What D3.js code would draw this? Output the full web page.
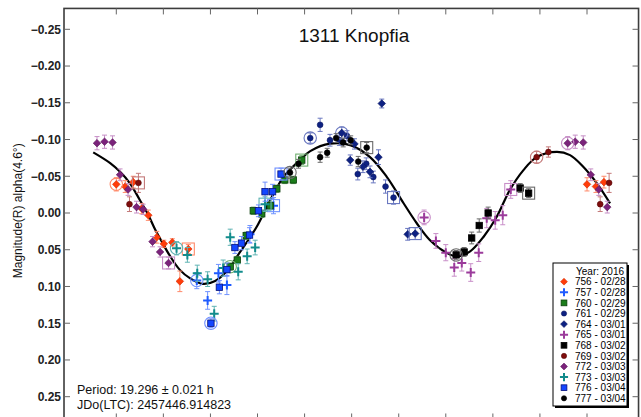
<!DOCTYPE html>
<html>
<head>
<meta charset="utf-8">
<script src="https://cdn.jsdelivr.net/npm/d3@7"></script>
<style>
  html, body { margin: 0; padding: 0; background: #fff; }
  svg { display: block; font-family: "Liberation Sans", Arial, sans-serif; }
</style>
</head>
<body>
<svg id="chart" width="641" height="417"></svg>
<script>
// ---- axis ticks ----
const phaseTicks = [0, 0.1, 0.2, 0.3, 0.4, 0.5, 0.6, 0.7, 0.8, 0.9, 1.0];
const magTicks = [-0.25, -0.20, -0.15, -0.10, -0.05, 0.00, 0.05, 0.10, 0.15, 0.20, 0.25];

// ---- Fourier fit (phase, reduced magnitude) ----
const fitPhase = [-0.049, -0.013, 0.008, 0.029, 0.050, 0.067, 0.082, 0.097, 0.114, 0.135,
  0.157, 0.184, 0.210, 0.235, 0.263, 0.298, 0.327, 0.355, 0.390, 0.412,
  0.454, 0.497, 0.539, 0.575, 0.610, 0.638, 0.666, 0.702, 0.723, 0.751,
  0.780, 0.808, 0.836, 0.865, 0.893, 0.936, 0.964, 0.992, 1.021, 1.049];
const fitMag = [-0.0825, -0.0679, -0.0561, -0.0404, -0.0177, 0.0014, 0.0217, 0.0394, 0.0584, 0.0774,
  0.0890, 0.0965, 0.0924, 0.0788, 0.0530, 0.0190, -0.0177, -0.0489, -0.0720, -0.0842,
  -0.0944, -0.0924, -0.0761, -0.0489, -0.0136, 0.0136, 0.0367, 0.0543, 0.0591, 0.0526,
  0.0326, 0.0054, -0.0313, -0.0584, -0.0761, -0.0833, -0.0788, -0.0629, -0.0404, -0.0132];

// ---- sessions: [phase, magnitude, error], in time order ----
const s756 = [[0.000, -0.039, 0.009], [0.019, -0.036, 0.008], [0.036, -0.042, 0.008], [0.054, -0.006, 0.007],
  [0.068, 0.003, 0.007], [0.086, 0.033, 0.008], [0.101, 0.042, 0.005], [0.119, 0.040, 0.005],
  [0.135, 0.093, 0.014], [0.153, 0.049, 0.006]];
const s757 = [[0.171, 0.092, 0.011], [0.194, 0.119, 0.012], [0.217, 0.082, 0.012], [0.235, 0.098, 0.013],
  [0.284, 0.029, 0.012], [0.334, -0.010, 0.011]];
const s760 = [[0.242, 0.073, 0.005], [0.257, 0.064, 0.005], [0.276, 0.031, 0.005], [0.291, -0.003, 0.005],
  [0.309, 0.001, 0.005], [0.327, -0.010, 0.005], [0.341, -0.033, 0.005], [0.358, -0.045, 0.005],
  [0.376, -0.045, 0.005], [0.394, -0.072, 0.006]];
const s761 = [[0.412, -0.102, 0.007], [0.433, -0.120, 0.009], [0.454, -0.099, 0.008], [0.474, -0.099, 0.007],
  [0.490, -0.105, 0.007], [0.513, -0.053, 0.008], [0.531, -0.067, 0.008], [0.546, -0.049, 0.008],
  [0.572, -0.036, 0.009], [0.589, -0.021, 0.009]];
const s764 = [[0.479, -0.109, 0.008], [0.497, -0.072, 0.007], [0.506, -0.094, 0.007], [0.524, -0.063, 0.008],
  [0.539, -0.056, 0.008], [0.557, -0.076, 0.010], [0.564, -0.149, 0.006], [0.619, 0.029, 0.008],
  [0.635, 0.028, 0.008]];
const s765 = [[0.654, 0.006, 0.010], [0.679, 0.038, 0.010], [0.700, 0.054, 0.011], [0.718, 0.074, 0.012],
  [0.734, 0.068, 0.011], [0.753, 0.081, 0.012], [0.770, 0.054, 0.012], [0.787, 0.007, 0.013],
  [0.805, 0.010, 0.012], [0.821, 0.003, 0.013], [0.838, -0.032, 0.012]];
const s768 = [[0.722, 0.057, 0.006], [0.739, 0.053, 0.006], [0.755, 0.034, 0.008], [0.771, 0.017, 0.009],
  [0.790, 0.000, 0.008], [0.858, -0.034, 0.006], [0.876, -0.027, 0.006]];
const s769 = [[0.893, -0.076, 0.008], [0.918, -0.083, 0.007], [0.028, -0.012, 0.010], [0.047, -0.041, 0.013]];
const s772 = [[0.959, -0.095, 0.009], [0.975, -0.097, 0.009], [0.992, -0.096, 0.009], [0.008, -0.052, 0.008],
  [0.025, -0.032, 0.008], [0.043, -0.008, 0.008], [0.057, -0.005, 0.007], [0.077, 0.039, 0.007],
  [0.093, 0.053, 0.007], [0.111, 0.068, 0.008]];
const s773 = [[0.128, 0.048, 0.009], [0.151, 0.057, 0.010], [0.172, 0.082, 0.011], [0.194, 0.090, 0.010],
  [0.208, 0.137, 0.010], [0.227, 0.075, 0.011], [0.242, 0.033, 0.011], [0.259, 0.080, 0.011],
  [0.278, 0.059, 0.010], [0.295, 0.047, 0.010], [0.316, -0.012, 0.010]];
const s776 = [[0.201, 0.150, 0.006], [0.219, 0.101, 0.009], [0.235, 0.077, 0.009], [0.252, 0.047, 0.008],
  [0.266, 0.041, 0.009], [0.283, 0.030, 0.010], [0.302, -0.003, 0.008], [0.316, -0.029, 0.013],
  [0.332, -0.029, 0.010], [0.350, -0.053, 0.008]];
const s777 = [[0.369, -0.055, 0.006], [0.387, -0.067, 0.006], [0.433, -0.076, 0.007], [0.448, -0.082, 0.006],
  [0.467, -0.102, 0.006], [0.482, -0.096, 0.006], [0.498, -0.099, 0.006], [0.514, -0.070, 0.007],
  [0.532, -0.089, 0.007]];

const sessionIds = ["756", "757", "760", "761", "764", "765", "768", "769", "772", "773", "776", "777"];
const sessionDates = ["02/28", "02/28", "02/29", "02/29", "03/01", "03/01", "03/02", "03/02", "03/03", "03/03", "03/04", "03/04"];
const sessionData = [s756, s757, s760, s761, s764, s765, s768, s769, s772, s773, s776, s777];

const titleText = "1311 Knopfia";
const yTitle = "Magnitude(R) alpha(4.6°)";
const legendTitle = "Year: 2016";
const infoLines = ["Period: 19.296 ± 0.021 h", "JDo(LTC): 2457446.914823"];

// ---- marker look per session ----
const looks = {
  "756": { shape: "diamond", fill: "#ff3c0a", stroke: "#d42a00", err: "#ff8a6a" },
  "757": { shape: "plus",    fill: "#1f5bff", stroke: "#1f5bff", err: "#7194ff" },
  "760": { shape: "square",  fill: "#1b7d1b", stroke: "#0b3f0b", err: "#6fae6f" },
  "761": { shape: "circle",  fill: "#0d2182", stroke: "#0a1660", err: "#6a78c0" },
  "764": { shape: "diamond", fill: "#0d2182", stroke: "#0a1660", err: "#6a78c0" },
  "765": { shape: "plus",    fill: "#9b3b9b", stroke: "#9b3b9b", err: "#c88ec8" },
  "768": { shape: "square",  fill: "#000000", stroke: "#000000", err: "#6a6a6a" },
  "769": { shape: "circle",  fill: "#7e0d0d", stroke: "#5a0808", err: "#c47a7a" },
  "772": { shape: "diamond", fill: "#7b237b", stroke: "#5a165a", err: "#c68ec6" },
  "773": { shape: "plus",    fill: "#128c8c", stroke: "#128c8c", err: "#5fb3b3" },
  "776": { shape: "square",  fill: "#1446ff", stroke: "#06107a", err: "#6f8fff" },
  "777": { shape: "circle",  fill: "#000000", stroke: "#000000", err: "#6a6a6a" }
};

// ---- scales ----
const x = d3.scaleLinear().domain([0, 1]).range([116.3, 587]);
const y = d3.scaleLinear().domain([-0.25, 0.25]).range([29.3, 396.7]);
const frame = { x0: x(-0.1111), x1: x(1.1095), y0: y(-0.2784), y1: y(0.2810) };

const svg = d3.select("#chart");
const ink = "#3c3c3c";

// frame
svg.append("rect")
  .attr("x", frame.x0).attr("y", frame.y0)
  .attr("width", frame.x1 - frame.x0).attr("height", frame.y1 - frame.y0)
  .attr("fill", "none").attr("stroke", ink).attr("stroke-width", 1.6);

// inward ticks on all four sides
const tk = svg.append("g").attr("stroke", "#666").attr("stroke-width", 1);
phaseTicks.forEach(p => {
  tk.append("line").attr("x1", x(p)).attr("x2", x(p)).attr("y1", frame.y0).attr("y2", frame.y0 + 6);
  tk.append("line").attr("x1", x(p)).attr("x2", x(p)).attr("y1", frame.y1).attr("y2", frame.y1 - 6);
});
magTicks.forEach(m => {
  tk.append("line").attr("x1", frame.x0).attr("x2", frame.x0 + 6).attr("y1", y(m)).attr("y2", y(m));
  tk.append("line").attr("x1", frame.x1).attr("x2", frame.x1 - 6).attr("y1", y(m)).attr("y2", y(m));
});

// y tick labels
svg.append("g").selectAll("text").data(magTicks).join("text")
  .attr("x", 61).attr("y", d => y(d)).attr("dy", "0.36em")
  .attr("text-anchor", "end").attr("font-size", 12).attr("font-weight", "bold")
  .attr("fill", "#222").text(d => d3.format(".2f")(d));

// y axis title
svg.append("text")
  .attr("transform", `translate(22,${y(-0.003)}) rotate(-90)`)
  .attr("text-anchor", "middle").attr("font-size", 12).attr("fill", "#111")
  .text(yTitle);

// title
svg.append("text").attr("x", 354).attr("y", 42).attr("text-anchor", "middle")
  .attr("font-size", 19).attr("fill", "#111").text(titleText);

// fit curve
const fitLine = d3.line().x(d => x(d[0])).y(d => y(d[1])).curve(d3.curveCatmullRom.alpha(0.5));
svg.append("path").datum(fitPhase.map((p, i) => [p, fitMag[i]]))
  .attr("d", fitLine).attr("fill", "none").attr("stroke", "#000").attr("stroke-width", 2.2);

// marker drawing
function drawMarker(g, shape, cx, cy, lk, s) {
  if (shape === "circle") {
    g.append("circle").attr("cx", cx).attr("cy", cy).attr("r", 2.9 * s)
      .attr("fill", lk.fill).attr("stroke", lk.stroke).attr("stroke-width", 0.6);
  } else if (shape === "square") {
    const h = 3.2 * s;
    g.append("rect").attr("x", cx - h).attr("y", cy - h).attr("width", 2 * h).attr("height", 2 * h)
      .attr("fill", lk.fill).attr("stroke", lk.stroke).attr("stroke-width", 0.8);
  } else if (shape === "diamond") {
    const h = 3.8 * s;
    g.append("path").attr("d", `M${cx},${cy - h}L${cx + h},${cy}L${cx},${cy + h}L${cx - h},${cy}Z`)
      .attr("fill", lk.fill).attr("stroke", lk.stroke).attr("stroke-width", 0.6);
  } else {
    const h = 4.5 * s;
    g.append("path").attr("d", `M${cx - h},${cy}H${cx + h}M${cx},${cy - h}V${cy + h}`)
      .attr("stroke", lk.fill).attr("stroke-width", 2).attr("fill", "none");
  }
}

// phase copies shown in the -0.05 .. 1.05 window
function copies(p) {
  const out = [p];
  if (p + 1 <= 1.05) out.push(p + 1);
  if (p - 1 >= -0.05) out.push(p - 1);
  return out;
}

const pts = svg.append("g");
sessionIds.forEach((id, si) => {
  const lk = looks[id];
  const data = sessionData[si];
  const g = pts.append("g");
  data.forEach(([p, m, e]) => {
    copies(p).forEach(pp => {
      const cx = x(pp);
      const eb = g.append("g").attr("stroke", lk.err).attr("stroke-width", 1);
      eb.append("line").attr("x1", cx).attr("x2", cx).attr("y1", y(m - e)).attr("y2", y(m + e));
      eb.append("line").attr("x1", cx - 2.5).attr("x2", cx + 2.5).attr("y1", y(m - e)).attr("y2", y(m - e));
      eb.append("line").attr("x1", cx - 2.5).attr("x2", cx + 2.5).attr("y1", y(m + e)).attr("y2", y(m + e));
    });
  });
  data.forEach(([p, m]) => {
    copies(p).forEach(pp => drawMarker(g, lk.shape, x(pp), y(m), lk, 1));
  });
  // first observation of the night: circle; last: square
  const first = data[0], last = data[data.length - 1];
  g.append("circle").attr("cx", x(first[0])).attr("cy", y(first[1])).attr("r", 6.2)
    .attr("fill", "none").attr("stroke", lk.err).attr("stroke-width", 1.1);
  g.append("rect").attr("x", x(last[0]) - 6).attr("y", y(last[1]) - 6)
    .attr("width", 12).attr("height", 12)
    .attr("fill", "none").attr("stroke", lk.err).attr("stroke-width", 1.1);
});

// period / epoch text
svg.append("g").selectAll("text").data(infoLines).join("text")
  .attr("x", 77).attr("y", (d, i) => 394 + i * 15)
  .attr("font-size", 12.5).attr("fill", "#111").text(d => d);

// legend
const lg = { x: 553, y: 263, w: 74, h: 143 };
const leg = svg.append("g");
leg.append("rect").attr("x", lg.x + 2).attr("y", lg.y + 2).attr("width", lg.w).attr("height", lg.h).attr("fill", "#000");
leg.append("rect").attr("x", lg.x).attr("y", lg.y).attr("width", lg.w).attr("height", lg.h)
  .attr("fill", "#fff").attr("stroke", "#000").attr("stroke-width", 1);
leg.append("text").attr("x", 576).attr("y", 274.5).attr("font-size", 10).attr("fill", "#000").text(legendTitle);
sessionIds.forEach((id, i) => {
  const cy = 281.7 + i * 10.6;
  drawMarker(leg, looks[id].shape, 564, cy, looks[id], 0.9);
  leg.append("text").attr("x", 575).attr("y", cy + 3.6).attr("font-size", 10).attr("fill", "#000")
    .text(`${id} - ${sessionDates[i]}`);
});
</script>
</body>
</html>
